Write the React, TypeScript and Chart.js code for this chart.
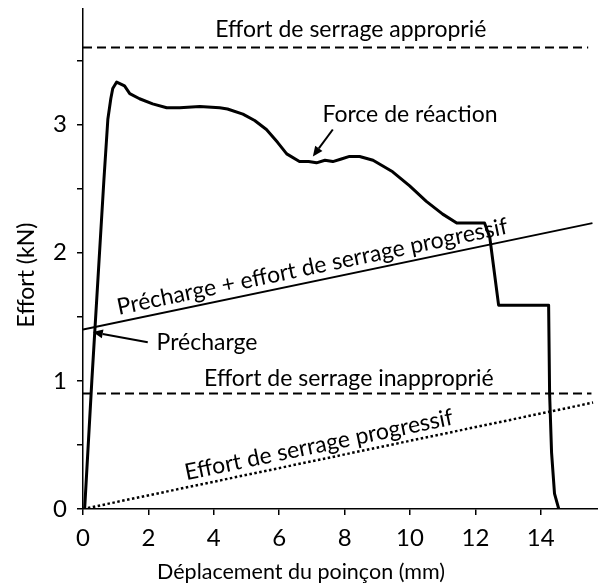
import { useEffect, useRef } from "react";
import { Chart, registerables } from "chart.js";

Chart.register(...registerables);

// ---- data ----
const reactionX = [0.05, 0.27, 0.64, 0.76, 0.85, 0.91, 1.03, 1.27, 1.43, 1.73, 2.13, 2.56, 2.96, 3.57, 4.18, 4.42, 4.89, 5.25, 5.61, 5.95, 6.23, 6.62, 6.9, 7.14, 7.4, 7.64, 7.9, 8.15, 8.46, 8.87, 9.47, 9.99, 10.5, 11.0, 11.43, 12.28, 12.44, 12.71, 14.24, 14.27, 14.33, 14.42, 14.55];
const reactionY = [0.0, 1.0, 2.57, 3.04, 3.2, 3.28, 3.33, 3.3, 3.24, 3.2, 3.16, 3.13, 3.13, 3.14, 3.13, 3.12, 3.08, 3.03, 2.96, 2.86, 2.77, 2.71, 2.71, 2.7, 2.72, 2.71, 2.73, 2.75, 2.75, 2.72, 2.63, 2.52, 2.4, 2.3, 2.23, 2.23, 2.12, 1.59, 1.59, 0.9, 0.44, 0.12, 0.0];

const prechargeX = [0, 15.58];
const prechargeY = [1.4, 2.23];
const progressiveX = [0, 15.6];
const progressiveY = [0, 0.83];
const appropriateX = [0, 15.45];
const appropriateY = [3.6, 3.6];
const inappropriateX = [0, 15.55];
const inappropriateY = [0.9, 0.9];

const xTicks = [0, 2, 4, 6, 8, 10, 12, 14];
const yTicks = [0, 0.5, 1, 1.5, 2, 2.5, 3, 3.5];
const yLabelled = [0, 1, 2, 3];

const xTitle = "Déplacement du poinçon (mm)";
const yTitle = "Effort (kN)";
const labelAppropriate = "Effort de serrage approprié";
const labelInappropriate = "Effort de serrage inapproprié";
const labelReaction = "Force de réaction";
const labelPrechargeLine = "Précharge + effort de serrage progressif";
const labelProgressive = "Effort de serrage progressif";
const labelPrecharge = "Précharge";

const FONT = "Lato, 'Noto Sans', sans-serif";

const toPts = (xs: number[], ys: number[]) => xs.map((v, i) => ({ x: v, y: ys[i] }));

function drawArrow(ctx: CanvasRenderingContext2D, x0: number, y0: number, x1: number, y1: number) {
  const ang = Math.atan2(y1 - y0, x1 - x0);
  const head = 10;
  const w = 4.5;
  const bx = x1 - head * Math.cos(ang);
  const by = y1 - head * Math.sin(ang);
  ctx.beginPath();
  ctx.moveTo(x0, y0);
  ctx.lineTo(bx, by);
  ctx.lineWidth = 2;
  ctx.strokeStyle = "#000";
  ctx.stroke();
  ctx.beginPath();
  ctx.moveTo(x1, y1);
  ctx.lineTo(bx + w * Math.sin(ang), by - w * Math.cos(ang));
  ctx.lineTo(bx - w * Math.sin(ang), by + w * Math.cos(ang));
  ctx.closePath();
  ctx.fillStyle = "#000";
  ctx.fill();
}

const annotationPlugin = {
  id: "annotations",
  afterDraw(chart: any) {
    const { ctx } = chart;
    const xs = chart.scales.x;
    const ys = chart.scales.y;
    const px = (v: number) => xs.getPixelForValue(v);
    const py = (v: number) => ys.getPixelForValue(v);
    ctx.save();
    ctx.fillStyle = "#000";
    ctx.font = `23px ${FONT}`;
    ctx.textBaseline = "alphabetic";

    // horizontal labels
    ctx.textAlign = "center";
    ctx.fillText(labelAppropriate, px(8.19), py(3.68));
    ctx.fillText(labelInappropriate, px(8.13), py(0.96));
    ctx.fillText(labelReaction, px(10.0), py(3.02));
    ctx.textAlign = "left";
    ctx.fillText(labelPrecharge, px(2.25), py(1.24));

    // rotated labels along lines
    const along = (text: string, lx: number[], ly: number[], cx: number, off: number) => {
      const x0 = px(lx[0]), y0 = py(ly[0]), x1 = px(lx[1]), y1 = py(ly[1]);
      const ang = Math.atan2(y1 - y0, x1 - x0);
      const t = (cx - lx[0]) / (lx[1] - lx[0]);
      const mx = x0 + t * (x1 - x0);
      const my = y0 + t * (y1 - y0);
      ctx.save();
      ctx.translate(mx, my);
      ctx.rotate(ang);
      ctx.textAlign = "center";
      ctx.fillText(text, 0, -off);
      ctx.restore();
    };
    along(labelPrechargeLine, prechargeX, prechargeY, 7.1, 7);
    along(labelProgressive, progressiveX, progressiveY, 7.3, 7);

    // arrows
    drawArrow(ctx, px(7.64), py(2.96), px(7.03), py(2.75));
    drawArrow(ctx, px(1.98), py(1.3), px(0.3), py(1.38));

    // axis titles
    ctx.fillStyle = "#000";
    ctx.textAlign = "center";
    ctx.textBaseline = "alphabetic";
    ctx.font = `21.5px ${FONT}`;
    ctx.fillText(xTitle, 301, 579);
    ctx.save();
    ctx.font = `23px ${FONT}`;
    ctx.translate(34, 275);
    ctx.rotate(-Math.PI / 2);
    ctx.fillText(yTitle, 0, 0);
    ctx.restore();

    ctx.restore();
  },
};

export default function App() {
  const ref = useRef<HTMLCanvasElement | null>(null);

  useEffect(() => {
    document.body.style.margin = "0";
    if (!ref.current) return;
    const tickFont = { family: FONT, size: 24 };
    const chart = new Chart(ref.current, {
      type: "scatter",
      data: {
        datasets: [
          {
            label: labelReaction,
            data: toPts(reactionX, reactionY),
            showLine: true,
            borderColor: "#000",
            borderWidth: 3,
            pointRadius: 0,
            tension: 0,
            borderJoinStyle: "round",
          },
          {
            label: labelPrechargeLine,
            data: toPts(prechargeX, prechargeY),
            showLine: true,
            borderColor: "#000",
            borderWidth: 1.8,
            pointRadius: 0,
          },
          {
            label: labelProgressive,
            data: toPts(progressiveX, progressiveY),
            showLine: true,
            borderColor: "#000",
            borderWidth: 2.5,
            borderDash: [2.5, 2.5],
            pointRadius: 0,
          },
          {
            label: labelAppropriate,
            data: toPts(appropriateX, appropriateY),
            showLine: true,
            borderColor: "#000",
            borderWidth: 2,
            borderDash: [9, 5],
            pointRadius: 0,
          },
          {
            label: labelInappropriate,
            data: toPts(inappropriateX, inappropriateY),
            showLine: true,
            borderColor: "#000",
            borderWidth: 2,
            borderDash: [9, 5],
            pointRadius: 0,
          },
        ],
      },
      options: {
        animation: false,
        responsive: false,
        layout: { padding: { top: 9, right: 0, left: 0, bottom: 0 } },
        plugins: { legend: { display: false }, tooltip: { enabled: false } },
        scales: {
          x: {
            type: "linear",
            min: 0,
            max: 15.75,
            afterBuildTicks: (s: any) => {
              s.ticks = xTicks.map((v) => ({ value: v }));
            },
            afterFit: (s: any) => {
              s.height = 75;
              s.paddingLeft = 0;
              s.paddingRight = 0;
            },
            grid: { drawOnChartArea: false, drawTicks: true, tickLength: 6, color: "#000", lineWidth: 1.5 },
            border: { color: "#000", width: 1.5 },
            ticks: { color: "#000", font: tickFont, padding: 9, maxRotation: 0, autoSkip: false },
          },
          y: {
            type: "linear",
            min: 0,
            max: 3.9,
            afterBuildTicks: (s: any) => {
              s.ticks = yTicks.map((v) => ({ value: v }));
            },
            afterFit: (s: any) => {
              s.width = 83;
              s.paddingTop = 0;
              s.paddingBottom = 0;
            },
            grid: { drawOnChartArea: false, drawTicks: true, tickLength: 6, color: "#000", lineWidth: 1.5 },
            border: { color: "#000", width: 1.5 },
            ticks: {
              color: "#000",
              font: tickFont,
              padding: 10,
              autoSkip: false,
              callback: (v: any) => (yLabelled.includes(Number(v)) ? String(v) : ""),
            },
          },
        },
      },
      plugins: [annotationPlugin],
    });
    return () => chart.destroy();
  }, []);

  return <canvas ref={ref} width={598} height={584} style={{ display: "block", width: 598, height: 584 }} />;
}
